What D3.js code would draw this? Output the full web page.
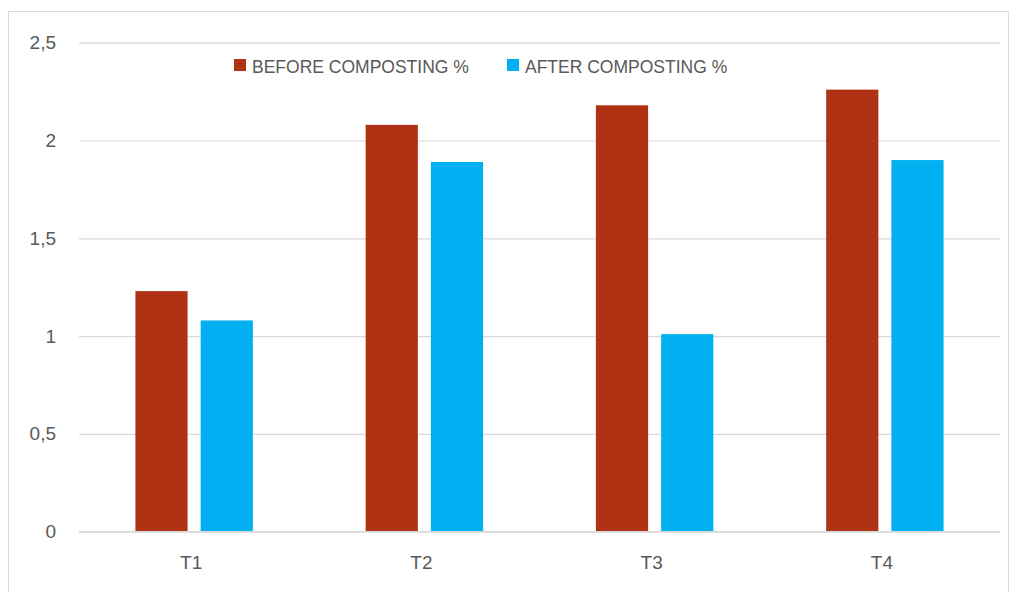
<!DOCTYPE html>
<html>
<head>
<meta charset="utf-8">
<script src="https://cdn.jsdelivr.net/npm/d3@7"></script>
<style>
  html, body { margin: 0; padding: 0; background: #fff; }
  svg { display: block; }
  text { font-family: "Liberation Sans", Arial, sans-serif; fill: #595959; }
</style>
</head>
<body>
<svg id="chart" width="1016" height="592"></svg>
<script>
const categories = ["T1", "T2", "T3", "T4"];
const seriesNames = ["BEFORE COMPOSTING %", "AFTER COMPOSTING %"];
const beforeValues = [1.23, 2.08, 2.18, 2.26];
const afterValues = [1.08, 1.89, 1.01, 1.90];
const yTicks = [0, 0.5, 1, 1.5, 2, 2.5];
const colors = ["#B03214", "#00B0F0"];

const svg = d3.select("#chart");
const plot = { left: 79, right: 1000, top: 42.7, bottom: 531.7 };
const FONT = "'Liberation Sans', Arial, sans-serif";

// outer frame
svg.append("rect")
  .attr("x", 8.5).attr("y", 11.5)
  .attr("width", 1000).attr("height", 600)
  .attr("fill", "#fff").attr("stroke", "#d9d9d9").attr("stroke-width", 1);

const x = d3.scaleBand().domain(categories)
  .range([plot.left, plot.right]).paddingInner(0.49).paddingOuter(0.245);
const x1 = d3.scaleBand().domain(seriesNames)
  .range([0, x.bandwidth()]).paddingInner(0.2);
const y = d3.scaleLinear().domain([0, 2.5]).range([plot.bottom, plot.top]);

const locale = d3.formatLocale({ decimal: ",", thousands: ".", grouping: [3], currency: ["", ""] });
const fmt = locale.format("~g");

// gridlines + y labels
const yAxis = d3.axisLeft(y).tickValues(yTicks).tickFormat(fmt)
  .tickSize(-(plot.right - plot.left)).tickPadding(23);
const gy = svg.append("g").attr("transform", `translate(${plot.left},0)`).call(yAxis);
gy.select(".domain").remove();
gy.selectAll(".tick line").attr("stroke", "#d9d9d9").attr("stroke-width", 1.2);
gy.selectAll(".tick text").attr("font-size", 19).attr("fill", "#595959").style("font-family", FONT);

// bars
const data = categories.map((c, i) => ({ cat: c, vals: [beforeValues[i], afterValues[i]] }));
const groups = svg.append("g").selectAll("g").data(data).join("g")
  .attr("transform", d => `translate(${x(d.cat)},0)`);
groups.selectAll("rect").data(d => d.vals.map((v, j) => ({ v, j })))
  .join("rect")
  .attr("x", d => x1(seriesNames[d.j]))
  .attr("width", x1.bandwidth())
  .attr("y", d => y(d.v))
  .attr("height", d => y(0) - y(d.v))
  .attr("fill", d => colors[d.j]);

// x axis
const xAxis = d3.axisBottom(x).tickSize(0).tickPadding(24);
const gx = svg.append("g").attr("transform", `translate(0,${plot.bottom})`).call(xAxis);
gx.select(".domain").attr("stroke", "#d9d9d9").attr("stroke-width", 1.2)
  .attr("d", `M${plot.left},0H${plot.right}`);
gx.selectAll(".tick text").attr("font-size", 19).attr("fill", "#595959").style("font-family", FONT)
  .attr("dx", -3);

// legend
const legendX = [234, 507];
const leg = svg.append("g");
seriesNames.forEach((name, i) => {
  leg.append("rect").attr("x", legendX[i]).attr("y", 59).attr("width", 12).attr("height", 12)
    .attr("fill", colors[i]);
  leg.append("text").attr("x", legendX[i] + 18).attr("y", 72.5)
    .attr("font-size", 17.5).text(name);
});
</script>
</body>
</html>
